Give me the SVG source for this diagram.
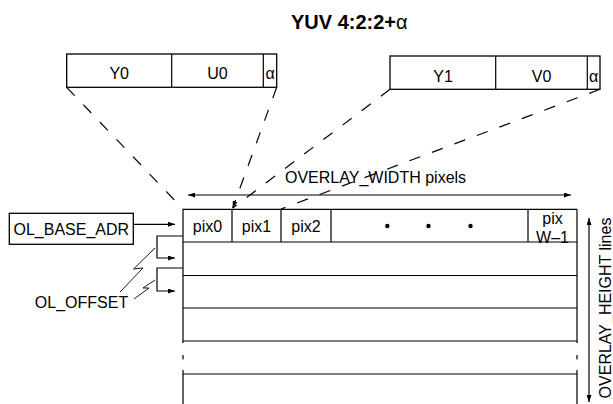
<svg xmlns="http://www.w3.org/2000/svg" width="613" height="404" viewBox="0 0 613 404">
<defs>
<style>
text{font-family:"Liberation Sans",Arial,sans-serif;font-size:16px;fill:#000}
.c{text-anchor:middle}
.box{fill:#fff;stroke:#000;stroke-width:1.3}
.ln{fill:none;stroke:#000;stroke-width:1.2}
.th{fill:none;stroke:#000;stroke-width:0.9}
.dash{fill:none;stroke:#000;stroke-width:1.2;stroke-dasharray:11.5 12.5}
</style>
<marker id="ah" viewBox="0 0 7 5" refX="7" refY="2.5" markerWidth="7" markerHeight="5" orient="auto-start-reverse" markerUnits="userSpaceOnUse">
<path d="M0,0 L7,2.5 L0,5 z" fill="#000"/>
</marker>
</defs>
<rect width="613" height="404" fill="#fff"/>

<g id="title">
<text x="291" y="29" style="font-size:20px;font-weight:bold">YUV 4:2:2+<tspan style="font-weight:normal">α</tspan></text>
</g>

<g id="pixel0-format">
<rect class="box" x="66.7" y="54" width="210" height="33.3"/>
<line class="ln" x1="171.7" y1="54" x2="171.7" y2="87.3"/>
<line class="ln" x1="263.3" y1="54" x2="263.3" y2="87.3"/>
<text class="c" x="119.2" y="79">Y0</text>
<text class="c" x="217.5" y="79">U0</text>
<text class="c" x="270" y="79">α</text>
</g>

<g id="pixel1-format">
<rect class="box" x="390" y="56" width="210" height="33.3"/>
<line class="ln" x1="495.7" y1="56" x2="495.7" y2="89.3"/>
<line class="ln" x1="587.3" y1="56" x2="587.3" y2="89.3"/>
<text class="c" x="443" y="82">Y1</text>
<text class="c" x="541.5" y="82">V0</text>
<text class="c" x="593.7" y="82">α</text>
</g>

<g id="overlay-buffer">
<path class="ln" d="M183,209.3 H577 M183,242 H577 M183,275.5 H577 M183,308 H577 M183,341 H577 M183,374 H577"/>
<path class="ln" d="M183,209.3 V343 M183,355 V359.5 M183,370 V404 M577,209.3 V343 M577,355 V359.5 M577,370 V404"/>
<path class="ln" d="M232,209.3 V242 M281,209.3 V242 M331,209.3 V242 M528,209.3 V242"/>
<text class="c" x="207.5" y="232">pix0</text>
<text class="c" x="256.5" y="232">pix1</text>
<text class="c" x="306" y="232">pix2</text>
<circle cx="387.3" cy="226" r="2.2"/>
<circle cx="428.5" cy="226" r="2.2"/>
<circle cx="470.5" cy="226" r="2.2"/>
<text class="c" x="552.5" y="224">pix</text>
<text class="c" x="552.5" y="242.5">W–1</text>
</g>

<g id="ol-base-adr">
<rect class="box" x="9.3" y="213.3" width="124" height="31"/>
<text class="c" x="71.3" y="234.5">OL_BASE_ADR</text>
</g>

<g id="ol-offset">
<text class="c" x="81.5" y="308">OL_OFFSET</text>
</g>

<g id="overlay-width">
<text x="285" y="183">OVERLAY_WIDTH pixels</text>
</g>

<g id="overlay-height">
<text class="c" transform="translate(611,308) rotate(-90)">OVERLAY_HEIGHT lines</text>
</g>

<g id="connectors">
<path class="dash" d="M66.7,87.3 L183,209"/>
<path class="dash" d="M276.7,87.3 L232.7,208" marker-end="url(#ah)"/>
<path class="dash" d="M390,89.3 L232.7,208"/>
<path class="dash" d="M600,89.3 L281,209"/>
<path class="ln" d="M188,195 H571" marker-start="url(#ah)" marker-end="url(#ah)"/>
<path class="ln" d="M589,218 V402" marker-start="url(#ah)" marker-end="url(#ah)"/>
<path class="ln" d="M133.3,224.3 H175" marker-end="url(#ah)"/>
<path class="ln" d="M183,236 H157 V258 H175" marker-end="url(#ah)"/>
<path class="ln" d="M183,268 H157 V291 H175" marker-end="url(#ah)"/>
<path class="th" d="M155,248 L133.5,269 L143,268 L120,292"/>
<path class="th" d="M155,280 L143,288 L149,288 L134,299"/>
</g>
</svg>
